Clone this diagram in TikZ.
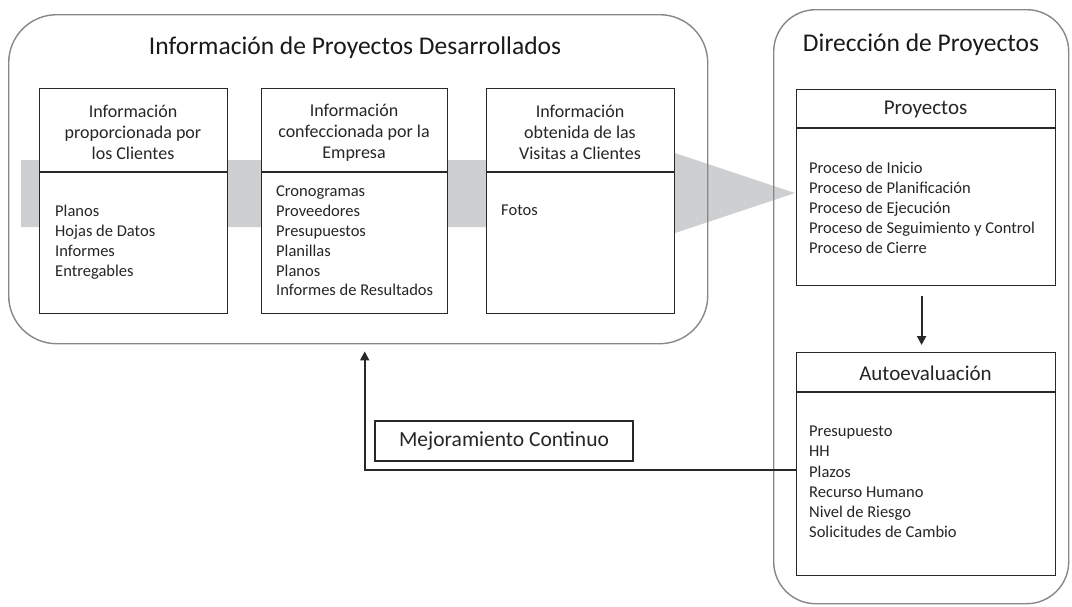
\documentclass[tikz,border=0pt]{standalone}
\usepackage{fontspec}
\setmainfont{Carlito}
\usetikzlibrary{arrows.meta}
\definecolor{bandgray}{RGB}{206,207,209}
\definecolor{groupline}{RGB}{135,135,135}
\definecolor{boxline}{RGB}{40,40,40}
\begin{document}
\begin{tikzpicture}[x=1pt,y=-1pt,
  group/.style={draw=groupline, line width=1.4pt, inner sep=0pt, anchor=north west},
  infobox/.style={draw=boxline, line width=1.2pt, fill=white, inner sep=0pt, anchor=north west},
  divider/.style={draw=boxline, line width=1.2pt},
  titletext/.style={font=\fontsize{25.5}{30}\selectfont, text=black!90, inner sep=0pt},
  headtext/.style={font=\fontsize{18}{21}\selectfont, align=center, text=black!85, inner sep=0pt},
  righthead/.style={font=\fontsize{21}{24}\selectfont, text=black!85, inner sep=0pt},
  itemtext/.style={font=\fontsize{16.5}{19.8}\selectfont, align=left, text=black!85, inner sep=0pt, anchor=north west},
  conn/.style={draw=boxline, line width=2pt, -{Triangle[length=9pt,width=9pt]}}
]
\useasboundingbox (0,0) rectangle (1072,606);

% gray flow band
\fill[bandgray] (21,160) -- (660,160) -- (660,148) -- (795,193) -- (660,238) -- (660,227) -- (21,227) -- cycle;

% groups
\node[group, rounded corners=48pt, minimum width=699pt, minimum height=329pt] (leftgrp) at (8,14) {};
\node[group, rounded corners=42pt, minimum width=295pt, minimum height=594pt] (rightgrp) at (773,9) {};

\node[titletext] (lefttitle) at (355,48) {Información de Proyectos Desarrollados};
\node[titletext] (righttitle) at (921,45) {Dirección de Proyectos};

% left boxes
\node[infobox, minimum width=188pt, minimum height=225pt] (b1) at (39,88) {};
\node[infobox, minimum width=186pt, minimum height=225pt] (b2) at (261,88) {};
\node[infobox, minimum width=188pt, minimum height=225pt] (b3) at (486,88) {};
\foreach \b in {b1,b2,b3}{
  \draw[divider] ([yshift=-84pt]\b.north west) -- ([yshift=-84pt]\b.north east);
}
\node[headtext] (h1) at (133,132) {Información\\proporcionada por\\los Clientes};
\node[headtext] (h2) at (354,133) {Información\\confeccionada por la\\Empresa};
\node[headtext] (h3) at (580,132) {Información\\obtenida de las\\Visitas a Clientes};

\node[itemtext] (i1) at (55,205) {Planos\\Hojas de Datos\\Informes\\Entregables};
\node[itemtext] (i2) at (276,186) {Cronogramas\\Proveedores\\Presupuestos\\Planillas\\Planos\\Informes de Resultados};
\node[itemtext] (i3) at (501,205) {Fotos};

% right boxes
\node[infobox, minimum width=259pt, minimum height=196pt] (proj) at (796,89) {};
\draw[divider] ([yshift=-39pt]proj.north west) -- ([yshift=-39pt]proj.north east);
\node[righthead] (projh) at (925.5,109) {Proyectos};
\node[itemtext, font=\fontsize{16.5}{19.9}\selectfont] (proji) at (809,162) {Proceso de Inicio\\Proceso de Planificación\\Proceso de Ejecución\\Proceso de Seguimiento y Control\\Proceso de Cierre};

\node[infobox, minimum width=259pt, minimum height=223pt] (auto) at (796,352) {};
\draw[divider] ([yshift=-40pt]auto.north west) -- ([yshift=-40pt]auto.north east);
\node[righthead] (autoh) at (925.5,373) {Autoevaluación};
\node[itemtext, font=\fontsize{16.5}{20.2}\selectfont] (autoi) at (809,426) {Presupuesto\\HH\\Plazos\\Recurso Humano\\Nivel de Riesgo\\Solicitudes de Cambio};

% feedback label
\node[draw=boxline, line width=1.2pt, minimum width=258pt, minimum height=40pt, inner sep=0pt, font=\fontsize{21.5}{25}\selectfont, text=black!85] (mejora) at (504,441) {Mejoramiento Continuo};

% connectors
\draw[conn, shorten <=10pt, shorten >=7pt] ([xshift=-4.5pt]proj.south) -- ([xshift=-4.5pt]auto.north);
\draw[conn, shorten >=7pt] ([yshift=-6pt]auto.west) -| ([xshift=6.5pt]leftgrp.south);
\end{tikzpicture}
\end{document}
